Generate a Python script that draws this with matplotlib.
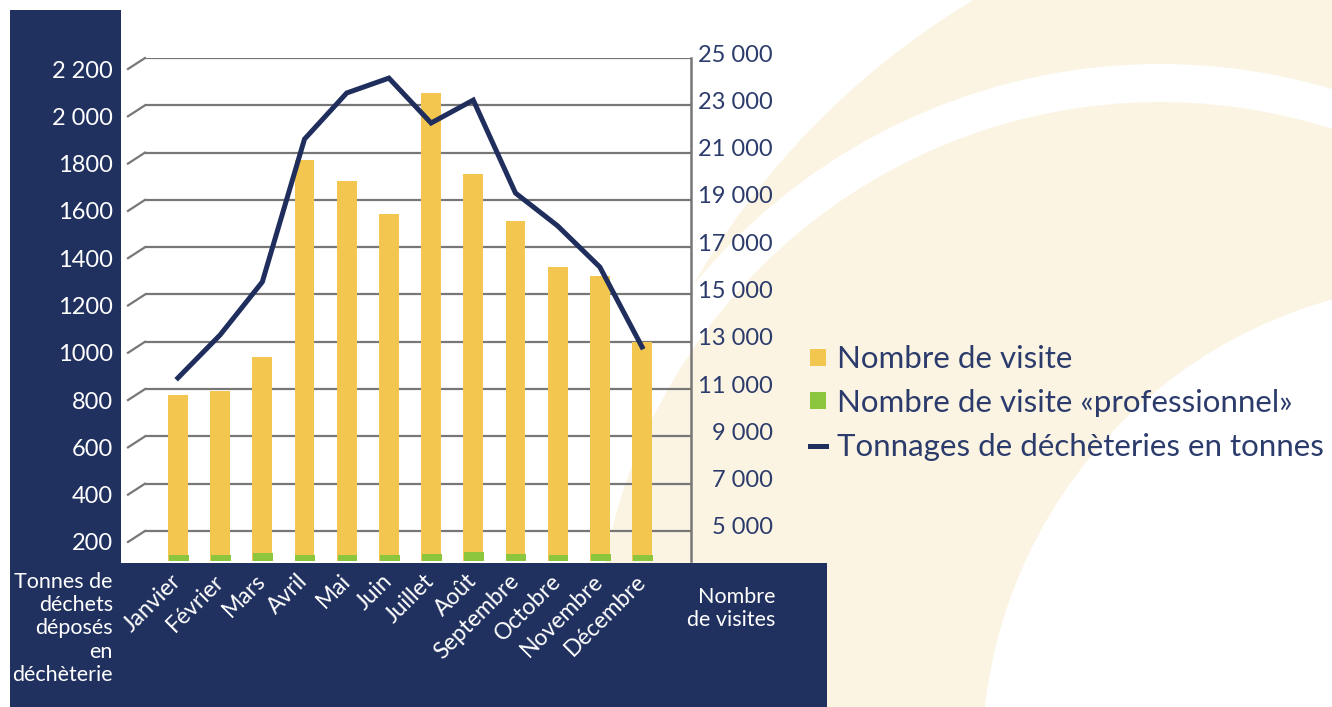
import numpy as np
import matplotlib
matplotlib.use("Agg")
import matplotlib.pyplot as plt
from matplotlib import patches, transforms

plt.rcParams['font.family'] = ['Lato', 'DejaVu Sans']

# data
months = ['Janvier', 'Février', 'Mars', 'Avril', 'Mai', 'Juin', 'Juillet',
          'Août', 'Septembre', 'Octobre', 'Novembre', 'Décembre']
visites = [10750, 10900, 12350, 20700, 19800, 18400, 23500, 20100, 18100, 16150, 15800, 13000]
visites_pro = [3990, 3990, 4070, 3990, 3990, 3990, 4030, 4110, 4030, 3990, 4030, 3990]
tonnages = [847, 1029, 1253, 1857, 2052, 2115, 1925, 2022, 1629, 1490, 1316, 978]

left_ticks = [200, 400, 600, 800, 1000, 1200, 1400, 1600, 1800, 2000, 2200]
left_labels = ['200', '400', '600', '800', '1000', '1200', '1400', '1600', '1800', '2 000', '2 200']
right_ticks = [5000, 7000, 9000, 11000, 13000, 15000, 17000, 19000, 21000, 23000, 25000]
right_labels = ['5 000', '7 000', '9 000', '11 000', '13 000', '15 000', '17 000',
                '19 000', '21 000', '23 000', '25 000']

navy = '#21315f'
navy_txt = '#2b3b6b'
yellow = '#f2c64f'
green = '#8cc63f'
grid_c = '#777777'
cream = '#fcf4e3'

W, H = 1332, 707
fig = plt.figure(figsize=(W / 100, H / 100), dpi=100)
fig.patch.set_facecolor('white')


def px(x, y):
    # pixel (from top-left) -> inches for dpi_scale_trans
    return (x / 100, (H - y) / 100)


# decorative background arcs
for (cx, cy, r, col) in [(1382, 682, 795, cream), (1160, 667, 603, 'white'),
                         (1160, 667, 565, cream), (1460, 760, 478, 'white')]:
    fig.add_artist(patches.Circle(px(cx, cy), r / 100, color=col, lw=0,
                                  transform=fig.dpi_scale_trans, zorder=-10))

# navy panels
fig.add_artist(patches.Rectangle(px(10, 563), 111 / 100, 553 / 100, color=navy, lw=0,
                                 transform=fig.dpi_scale_trans, zorder=-5))
fig.add_artist(patches.Rectangle(px(10, 707), 817 / 100, 144 / 100, color=navy, lw=0,
                                 transform=fig.dpi_scale_trans, zorder=-5))

ax2 = fig.add_axes([145 / W, 1 - 561 / H, (691 - 145) / W, (561 - 58) / H])
ax = ax2.twinx()
ax2.yaxis.tick_right()
ax.yaxis.tick_left()

x = np.arange(len(months))
ax2.set_xlim(-0.78, 12.16)
ax2.set_ylim(3730, 25000)
ax.set_ylim(73, 2200)

# gridlines with little perspective stubs
for t in right_ticks:
    ax2.axhline(t, color=grid_c, lw=1.6, zorder=0)
    ax2.plot([-0.78, -0.78 - 17 / 42.2], [t, t - 11 * 42.28], color=grid_c, lw=1.6,
             clip_on=False, zorder=0)

bar_y = ax2.bar(x, visites, width=0.47, color=yellow, zorder=2)
bar_g = ax2.bar(x + 0.02, visites_pro, width=0.47, color=green, zorder=3)
line, = ax.plot(x, tonnages, color='#1f2e5c', lw=3.6, solid_joinstyle='miter', zorder=5)

for s in ax.spines.values():
    s.set_visible(False)
for s in ax2.spines.values():
    s.set_visible(False)
ax2.spines['right'].set_visible(True)
ax2.spines['right'].set_color(grid_c)
ax2.spines['right'].set_linewidth(1.8)
ax.patch.set_visible(False)
ax2.patch.set_visible(False)

ax.set_yticks(left_ticks, left_labels)
ax.tick_params(axis='y', length=0, pad=23, labelsize=17, labelcolor='white')
ax2.set_yticks(right_ticks, right_labels)
ax2.tick_params(axis='y', length=0, pad=59, labelsize=17, labelcolor=navy_txt)
for lab in ax2.get_yticklabels():
    lab.set_horizontalalignment('right')
    lab.set_transform(lab.get_transform() + transforms.ScaledTranslation(0, 0.05, fig.dpi_scale_trans))
for lab in ax.get_yticklabels():
    lab.set_transform(lab.get_transform() + transforms.ScaledTranslation(0, -0.11, fig.dpi_scale_trans))

ax2.set_xticks(x, months, rotation=45, ha='right', va='center', rotation_mode='anchor')
ax2.tick_params(axis='x', length=0, pad=12, labelsize=16.5, labelcolor='white')

fig.text(113 / W, 1 - 572 / H, 'Tonnes de\ndéchets\ndéposés\nen\ndéchèterie', ha='right', va='top',
         color='white', fontsize=15.5, linespacing=1.2, multialignment='right')
fig.text(775 / W, 1 - 587 / H, 'Nombre\nde visites', ha='right', va='top',
         color='white', fontsize=15.5, linespacing=1.2, multialignment='right')

fig.legend([bar_y, bar_g, line],
           ['Nombre de visite', 'Nombre de visite «professionnel»', 'Tonnages de déchèteries en tonnes'],
           loc='center left', bbox_to_anchor=(810 / W, 1 - 403 / H), frameon=False,
           fontsize=22.5, labelcolor=navy_txt, handlelength=0.5, handleheight=0.45,
           handletextpad=0.35, labelspacing=0.5, borderpad=0, borderaxespad=0)

fig.savefig('out.png', dpi=100)
